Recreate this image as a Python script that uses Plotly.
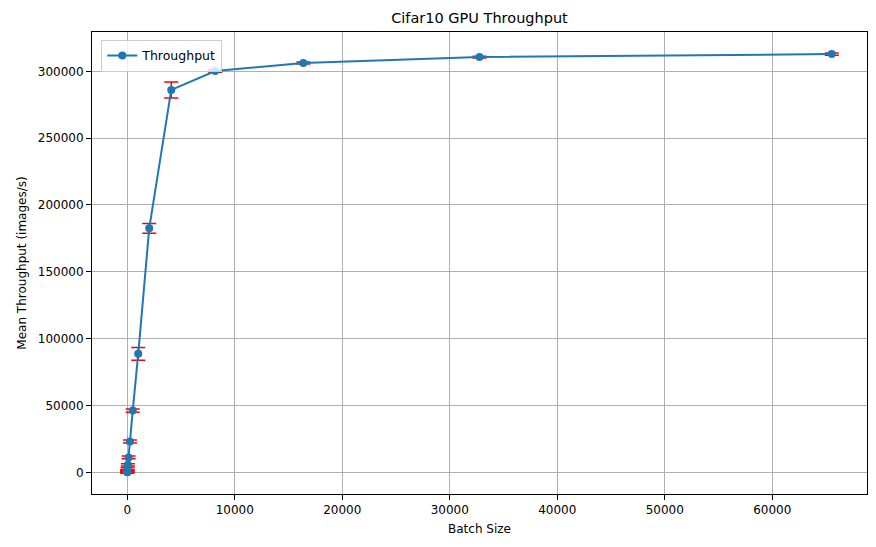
import plotly.graph_objects as go

# ------------------ DATA ------------------
batch_sizes = [1, 2, 4, 8, 16, 32, 64, 128, 256, 512, 1024, 2048, 4096, 8192, 16384, 32768, 65536]
throughput = [90, 180, 350, 700, 1400, 2800, 5600, 11170, 23100, 46190, 88650, 182500, 286070,
              300200, 306200, 310650, 312900]
throughput_err = [600, 600, 700, 700, 800, 800, 900, 1000, 1100, 1200, 4800, 3700, 5960,
                  900, 800, 700, 800]

x_ticks = [0, 10000, 20000, 30000, 40000, 50000, 60000]
y_ticks = [0, 50000, 100000, 150000, 200000, 250000, 300000]

# matplotlib-like 5% margins
x_lo, x_hi = min(batch_sizes), max(batch_sizes)
y_lo = min(v - e for v, e in zip(throughput, throughput_err))
y_hi = max(v + e for v, e in zip(throughput, throughput_err))
x_pad = 0.05 * (x_hi - x_lo)
y_pad = 0.05 * (y_hi - y_lo)

BLUE = "#1f77b4"
FONT = "DejaVu Sans"

fig = go.Figure()

fig.add_trace(go.Scatter(
    x=batch_sizes,
    y=throughput,
    mode="lines+markers",
    name="Throughput",
    line=dict(color=BLUE, width=2),
    marker=dict(color=BLUE, size=8),
    error_y=dict(type="data", array=throughput_err, visible=True,
                 color="red", thickness=1.5, width=7),
))

axis_common = dict(
    showline=True, linecolor="black", linewidth=1, mirror=True,
    showgrid=True, gridcolor="#b0b0b0", gridwidth=1,
    ticks="outside", ticklen=5, tickwidth=1, tickcolor="black",
    zeroline=False,
    tickfont=dict(family=FONT, size=12, color="black"),
)

# page body has an 8px margin, so the figure is a bit smaller than the window
fig.update_layout(
    width=868, height=539,
    margin=dict(l=84, r=9, t=24, b=53),
    paper_bgcolor="white", plot_bgcolor="white",
    font=dict(family=FONT, size=12, color="black"),
    title=dict(text="Cifar10 GPU Throughput", x=0.5, xref="paper", xanchor="center",
               y=0.981, yanchor="middle", font=dict(family=FONT, size=14.5, color="black")),
    xaxis=dict(**axis_common, range=[x_lo - x_pad, x_hi + x_pad],
               tickvals=x_ticks, ticktext=[str(t) for t in x_ticks],
               title=dict(text="Batch Size", font=dict(family=FONT, size=12), standoff=8)),
    yaxis=dict(**axis_common, range=[y_lo - y_pad, y_hi + y_pad],
               tickvals=y_ticks, ticktext=[str(t) for t in y_ticks],
               title=dict(text="Mean Throughput (images/s)", font=dict(family=FONT, size=12), standoff=8)),
    showlegend=True,
    legend=dict(x=0.012, y=0.983, xanchor="left", yanchor="top",
                bgcolor="rgba(255,255,255,0.8)", bordercolor="#cccccc", borderwidth=1,
                font=dict(family=FONT, size=12.5, color="black")),
)

fig.write_html("out.html")
